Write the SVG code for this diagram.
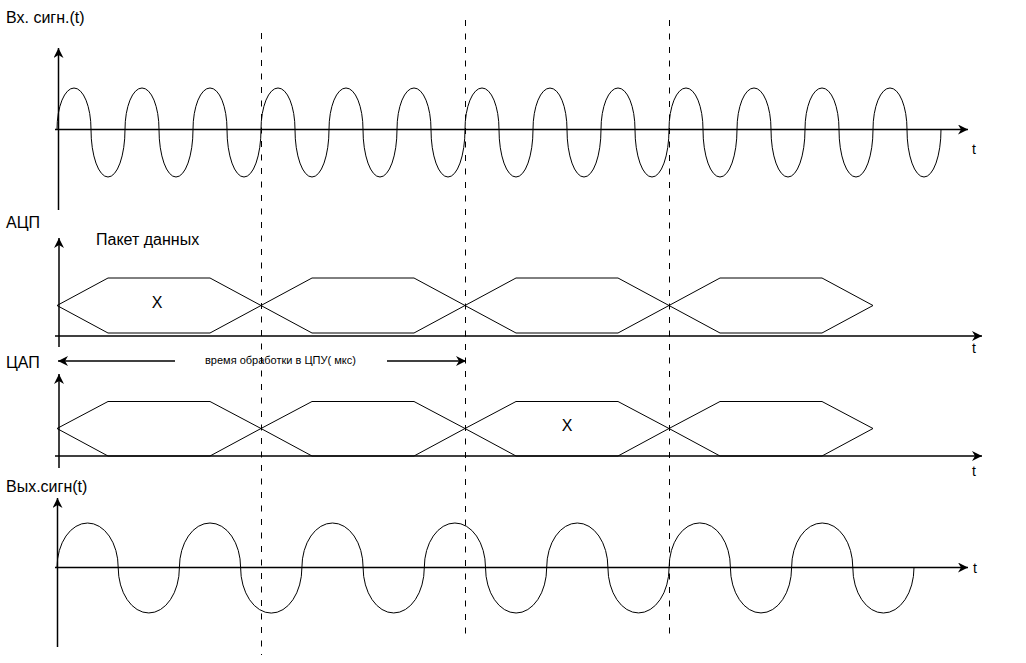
<svg xmlns="http://www.w3.org/2000/svg" width="1026" height="663" viewBox="0 0 1026 663">
<style>
.ax{stroke:#000;stroke-width:1.5;fill:none}
.ar{marker-end:url(#arr)}
.wv{stroke:#000;stroke-width:1;fill:none}
.hx{stroke:#000;stroke-width:1;fill:none}
.ds{stroke:#000;stroke-width:1;stroke-dasharray:6 7.5;fill:none}
.lb{font-family:"Liberation Sans",Arial,sans-serif;font-size:16px;fill:#000}
.tl{font-family:"Liberation Sans",Arial,sans-serif;font-size:14px;fill:#000}
.sm{font-family:"Liberation Sans",Arial,sans-serif;font-size:11px;fill:#000}
</style>
<defs>
<marker id="arr" viewBox="0 0 10 10" markerUnits="userSpaceOnUse" markerWidth="12" markerHeight="10" refX="10" refY="5" orient="auto">
<path d="M0,0 L10,5 L0,10 L3,5 Z" fill="#000"/>
</marker>
</defs>
<rect width="1026" height="663" fill="#fff"/>

<g id="labels">
<text class="lb" x="6" y="23">Вх. сигн.(t)</text>
<text class="lb" x="6" y="228">АЦП</text>
<text class="lb" x="96" y="245">Пакет данных</text>
<text class="lb" x="6" y="368">ЦАП</text>
<text class="lb" x="6" y="492">Вых.сигн(t)</text>
</g>

<g id="dashes">
<line class="ds" x1="261.5" y1="33" x2="261.5" y2="655"/>
<line class="ds" x1="465.5" y1="20" x2="465.5" y2="640"/>
<line class="ds" x1="669.5" y1="20" x2="669.5" y2="640"/>
</g>

<g id="input-signal">
<line class="ax ar" x1="58.5" y1="210" x2="58.5" y2="48"/>
<line class="ax ar" x1="55" y1="129.5" x2="968" y2="129.5"/>
<text class="tl" x="972" y="154">t</text>
<path class="wv" d="M57 129.5 A17 41.5 0 0 1 91 129.5 A17 47.5 0 0 0 125 129.5 A17 41.5 0 0 1 159 129.5 A17 47.5 0 0 0 193 129.5 A17 41.5 0 0 1 227 129.5 A17 47.5 0 0 0 261 129.5 A17 41.5 0 0 1 295 129.5 A17 47.5 0 0 0 329 129.5 A17 41.5 0 0 1 363 129.5 A17 47.5 0 0 0 397 129.5 A17 41.5 0 0 1 431 129.5 A17 47.5 0 0 0 465 129.5 A17 41.5 0 0 1 499 129.5 A17 47.5 0 0 0 533 129.5 A17 41.5 0 0 1 567 129.5 A17 47.5 0 0 0 601 129.5 A17 41.5 0 0 1 635 129.5 A17 47.5 0 0 0 669 129.5 A17 41.5 0 0 1 703 129.5 A17 47.5 0 0 0 737 129.5 A17 41.5 0 0 1 771 129.5 A17 47.5 0 0 0 805 129.5 A17 41.5 0 0 1 839 129.5 A17 47.5 0 0 0 873 129.5 A17 41.5 0 0 1 907 129.5 A17 47.5 0 0 0 941 129.5"/>
</g>

<g id="adc">
<line class="ax ar" x1="59" y1="347" x2="59" y2="238"/>
<line class="ax ar" x1="55" y1="336" x2="982" y2="336"/>
<text class="tl" x="972" y="353">t</text>
<polygon class="hx" points="57,305.5 108,278 210,278 261,305.5 210,333 108,333"/>
<polygon class="hx" points="261,305.5 312,278 414,278 465,305.5 414,333 312,333"/>
<polygon class="hx" points="465,305.5 516,278 618,278 669,305.5 618,333 516,333"/>
<polygon class="hx" points="669,305.5 720,278 822,278 873,305.5 822,333 720,333"/>
<text class="lb" x="157" y="308" text-anchor="middle">X</text>
</g>

<g id="processing-time">
<line class="ax ar" x1="175" y1="361" x2="58" y2="361"/>
<line class="ax ar" x1="387" y1="361" x2="466" y2="361"/>
<text class="sm" x="205" y="364">время обработки в ЦПУ( мкс)</text>
</g>

<g id="dac">
<line class="ax ar" x1="59" y1="468" x2="59" y2="374"/>
<line class="ax ar" x1="55" y1="456" x2="982" y2="456"/>
<text class="tl" x="972" y="476">t</text>
<polygon class="hx" points="57,428.5 108,401.5 210,401.5 261,428.5 210,456 108,456"/>
<polygon class="hx" points="261,428.5 312,401.5 414,401.5 465,428.5 414,456 312,456"/>
<polygon class="hx" points="465,428.5 516,401.5 618,401.5 669,428.5 618,456 516,456"/>
<polygon class="hx" points="669,428.5 720,401.5 822,401.5 873,428.5 822,456 720,456"/>
<text class="lb" x="567" y="431" text-anchor="middle">X</text>
</g>

<g id="output-signal">
<line class="ax ar" x1="57.5" y1="647" x2="57.5" y2="498"/>
<line class="ax ar" x1="55" y1="567.5" x2="968" y2="567.5"/>
<text class="tl" x="973" y="573">t</text>
<path class="wv" d="M57 567.5 A30.6 44.5 0 0 1 118.2 567.5 A30.6 45.5 0 0 0 179.4 567.5 A30.6 44.5 0 0 1 240.6 567.5 A30.6 45.5 0 0 0 301.9 567.5 A30.6 44.5 0 0 1 363.1 567.5 A30.6 45.5 0 0 0 424.3 567.5 A30.6 44.5 0 0 1 485.5 567.5 A30.6 45.5 0 0 0 546.7 567.5 A30.6 44.5 0 0 1 607.9 567.5 A30.6 45.5 0 0 0 669.1 567.5 A30.6 44.5 0 0 1 730.4 567.5 A30.6 45.5 0 0 0 791.6 567.5 A30.6 44.5 0 0 1 852.8 567.5 A30.6 45.5 0 0 0 914 567.5"/>
</g>
</svg>
